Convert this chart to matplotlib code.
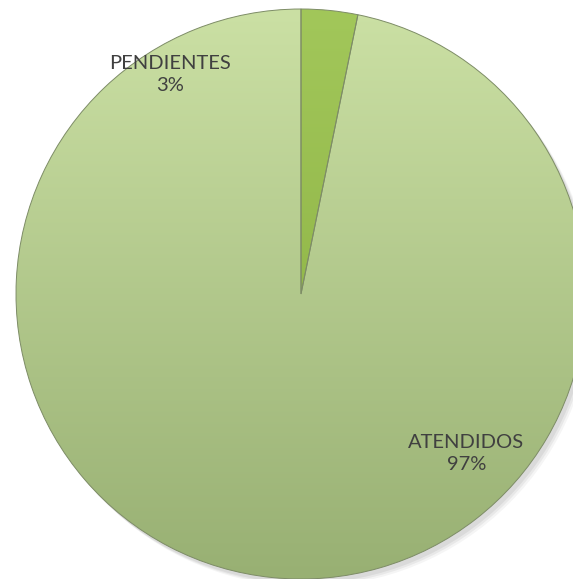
import numpy as np
import matplotlib.pyplot as plt
from matplotlib.colors import LinearSegmentedColormap
from matplotlib.patches import Circle

labels = ["PENDIENTES", "ATENDIDOS"]
values = [3.2, 96.8]
pct_text = ["3%", "97%"]
top_colors = ["#a2c75a", "#cbe0a4"]
bottom_colors = ["#85ab3c", "#98b073"]

W, H = 573, 579
CX, CY, R = 301, 294, 285

fig = plt.figure(figsize=(W / 100, H / 100), dpi=100)
ax = fig.add_axes([0, 0, 1, 1])
ax.set_xlim(-CX / R, (W - CX) / R)
ax.set_ylim(-(H - CY) / R, CY / R)
ax.set_aspect("equal")
ax.axis("off")

# soft shadow under the pie
for i, a in enumerate([0.06, 0.05, 0.04]):
    ax.add_patch(Circle((0.012 + i * 0.006, -0.015 - i * 0.006), 1.0,
                        color="black", alpha=a, lw=0, zorder=0))

wedges, _ = ax.pie(values, startangle=90, counterclock=False, radius=1.0,
                   colors=top_colors,
                   wedgeprops=dict(edgecolor="#7d8c66", linewidth=0.7))

# vertical gradient fill, clipped by each wedge
grad = np.linspace(0, 1, 256).reshape(-1, 1)
for w, c1, c2 in zip(wedges, top_colors, bottom_colors):
    cmap = LinearSegmentedColormap.from_list("g", [c1, c2])
    im = ax.imshow(grad, cmap=cmap, extent=[-1, 1, -1, 1], origin="upper",
                   aspect="auto", zorder=1.5)
    im.set_clip_path(w)
    w.set_zorder(2)
    w.set_facecolor("none")

ax.set_xlim(-CX / R, (W - CX) / R)
ax.set_ylim(-(H - CY) / R, CY / R)

txt = dict(ha="center", va="center", fontsize=14.5, color="#404040",
           family="Lato", linespacing=1.4, zorder=5)
ax.text(-0.46, 0.77, labels[0] + "\n" + pct_text[0], **txt)
ax.text(0.58, -0.56, labels[1] + "\n" + pct_text[1], **txt)

fig.savefig("out.png", dpi=100)
